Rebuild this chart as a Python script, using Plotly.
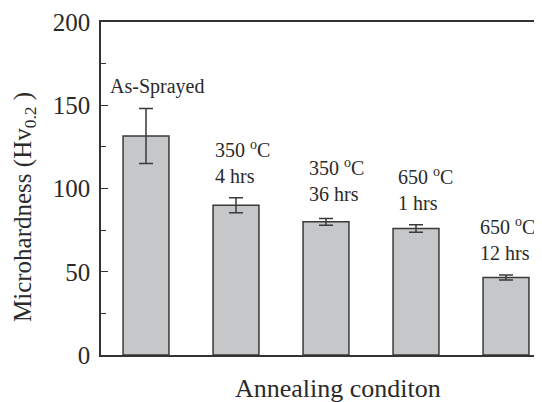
import plotly.graph_objects as go

categories = ["As-Sprayed", "350 °C 4 hrs", "350 °C 36 hrs", "650 °C 1 hrs", "650 °C 12 hrs"]
labels = ["As-Sprayed", "350 <sup>o</sup>C<br>4 hrs", "350 <sup>o</sup>C<br>36 hrs",
          "650 <sup>o</sup>C<br>1 hrs", "650 <sup>o</sup>C<br>12 hrs"]
hardness = [131.5, 90, 80, 76, 46.5]
errors = [16.5, 4.5, 2, 2.3, 1.5]

# label placement (layout only)
label_dx = [-0.42, -0.26, -0.21, -0.22, -0.31]
label_y = [161.5, 116, 105.4, 100, 69.7]

FONT = "'Liberation Serif', 'Times New Roman', 'DejaVu Serif', serif"
INK = "#2a2a2a"

# page body has an 8px margin; lay the figure out in window pixels minus that offset
OFF = 8
W, H = 542 - OFF, 402 - OFF
L, T, B = 101 - OFF, 22 - OFF, 355 - OFF
PW, PH = W - L, B - T

xs = list(range(len(categories)))

fig = go.Figure()
fig.add_trace(go.Bar(
    x=xs, y=hardness, width=0.51,
    marker=dict(color="#c6c7c9", line=dict(color="#3a3a3a", width=1.5)),
    error_y=dict(type="data", array=errors, visible=True, color="#3a3a3a",
                 thickness=1.5, width=7),
    hovertext=categories,
))

for i, t in enumerate(labels):
    fig.add_annotation(x=xs[i] + label_dx[i], y=label_y[i], xref="x", yref="y",
                       text=t, showarrow=False, xanchor="left", yanchor="middle",
                       align="left", font=dict(family=FONT, size=20, color=INK))

fig.add_annotation(x=(24 - 101) / PW, y=(355 - 207) / PH, xref="paper", yref="paper",
                   text="Microhardness (Hv<sub>0.2</sub> )", textangle=-90, showarrow=False,
                   xanchor="center", yanchor="middle",
                   font=dict(family=FONT, size=25, color=INK))
fig.add_annotation(x=(337.5 - 101) / PW, y=(355 - 388) / PH, xref="paper", yref="paper",
                   text="Annealing conditon", showarrow=False,
                   xanchor="center", yanchor="middle",
                   font=dict(family=FONT, size=26, color=INK))

x_right = -0.5 + PW / 90.0

fig.update_layout(
    width=W, height=H,
    margin=dict(l=L, r=0, t=T, b=H - B, pad=0),
    paper_bgcolor="white", plot_bgcolor="white",
    showlegend=False,
    font=dict(family=FONT, color=INK),
    xaxis=dict(range=[-0.5, x_right], showticklabels=False, ticks="", showgrid=False,
               zeroline=False, showline=True, linecolor="#333333", linewidth=1.5,
               mirror=True),
    yaxis=dict(range=[0, 200], tickvals=[0, 50, 100, 150, 200], ticks="inside",
               ticklen=7, tickwidth=1.2, tickcolor="#333333",
               minor=dict(tickvals=[25, 75, 125, 175], ticks="inside", ticklen=5,
                          tickwidth=1.2, tickcolor="#333333"),
               showgrid=False, zeroline=False, showline=True, linecolor="#333333",
               linewidth=1.5, tickfont=dict(family=FONT, size=25, color=INK),
               ticklabelstandoff=4),
)

fig.write_html("out.html")
